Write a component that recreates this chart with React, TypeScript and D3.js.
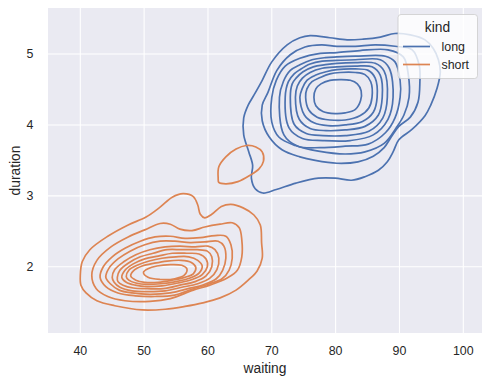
import React from 'react';
import * as d3 from 'd3';

type P = [number, number];

// axis ticks
const xTicks = [40, 50, 60, 70, 80, 90, 100];
const yTicks = [2, 3, 4, 5];
const kinds = ['long', 'short'];
const kindColors = ['#4C72B0', '#DD8452'];

// KDE contour lines, as (waiting, duration) pairs, outer -> inner
const long1: P[] = [[72.4,5.13],[74.4,5.23],[76.0,5.26],[79.1,5.23],[81.8,5.20],[84.3,5.21],[87.0,5.24],[89.3,5.29],[91.7,5.27],[94.0,5.20],[95.3,5.08],[96.1,4.92],[96.4,4.75],[95.9,4.52],[94.9,4.28],[94.0,4.13],[92.0,3.94],[89.9,3.79],[89.0,3.62],[88.1,3.48],[86.7,3.36],[84.6,3.27],[82.5,3.22],[79.9,3.25],[77.3,3.25],[73.8,3.18],[70.7,3.09],[68.6,3.04],[67.4,3.10],[66.8,3.25],[67.0,3.43],[66.4,3.62],[65.6,3.86],[65.6,4.10],[66.3,4.28],[67.2,4.42],[68.5,4.63],[70.0,4.89]];
const long2: P[] = [[68.5,4.28],[69.4,4.46],[70.8,4.77],[72.9,4.99],[75.2,5.10],[77.8,5.13],[80.2,5.11],[83.1,5.11],[86.2,5.13],[89.3,5.11],[92.0,5.06],[93.1,4.84],[93.2,4.61],[92.9,4.32],[91.7,4.11],[89.9,3.98],[88.7,3.83],[87.6,3.68],[85.9,3.56],[83.5,3.48],[80.2,3.46],[76.8,3.50],[74.4,3.55],[71.6,3.65],[69.6,3.83],[68.5,4.06]];
const long3: P[] = [[70.0,4.39],[70.7,4.63],[72.1,4.83],[74.4,4.94],[77.6,5.01],[80.2,5.02],[83.8,5.05],[88.2,5.06],[90.6,4.96],[91.4,4.70],[91.5,4.39],[90.7,4.14],[89.5,3.96],[87.6,3.74],[84.6,3.62],[81.5,3.59],[77.3,3.63],[73.7,3.71],[71.1,3.83],[70.0,4.04]];
const long4: P[] = [[71.2,4.39],[71.8,4.61],[72.9,4.77],[74.4,4.85],[76.3,4.92],[78.4,4.95],[80.2,4.96],[83.1,4.97],[87.8,4.97],[89.3,4.89],[90.1,4.63],[90.1,4.39],[89.3,4.10],[87.8,3.89],[85.1,3.73],[81.5,3.70],[77.6,3.68],[74.1,3.70],[71.9,3.86]];
const long5: P[] = [[72.1,4.39],[72.6,4.61],[73.5,4.72],[74.4,4.78],[76.0,4.86],[77.9,4.90],[80.2,4.91],[83.1,4.92],[87.0,4.92],[88.4,4.80],[89.0,4.39],[88.2,4.08],[85.9,3.86],[82.3,3.78],[78.0,3.78],[74.8,3.81],[72.7,3.96]];
const long6: P[] = [[72.9,4.39],[73.2,4.58],[73.8,4.66],[74.9,4.75],[76.5,4.82],[78.4,4.85],[80.2,4.87],[83.1,4.88],[86.2,4.87],[87.6,4.76],[88.1,4.39],[87.4,4.10],[85.2,3.91],[81.5,3.85],[78.0,3.85],[75.4,3.88],[73.5,4.01]];
const long7: P[] = [[73.7,4.39],[74.0,4.55],[74.8,4.66],[76.0,4.74],[77.9,4.80],[80.2,4.82],[83.1,4.83],[85.7,4.82],[87.0,4.70],[87.3,4.39],[86.7,4.14],[84.6,3.98],[81.5,3.93],[78.5,3.92],[76.0,3.95],[74.3,4.08]];
const long8: P[] = [[74.4,4.39],[74.8,4.52],[75.5,4.63],[76.8,4.70],[78.5,4.75],[80.2,4.78],[83.1,4.79],[85.1,4.77],[86.2,4.66],[86.5,4.39],[85.9,4.18],[84.2,4.05],[81.5,4.00],[78.8,3.99],[76.6,4.03],[75.1,4.14]];
const long9: P[] = [[75.3,4.39],[75.5,4.51],[76.3,4.61],[77.6,4.67],[79.1,4.72],[80.7,4.74],[83.1,4.74],[84.6,4.71],[85.5,4.61],[85.7,4.39],[85.2,4.24],[83.8,4.13],[81.5,4.07],[79.1,4.07],[77.1,4.11],[75.8,4.21]];
const long10: P[] = [[76.6,4.39],[76.9,4.51],[77.7,4.58],[79.1,4.63],[80.7,4.64],[82.3,4.63],[83.4,4.58],[84.0,4.48],[83.9,4.34],[83.1,4.22],[81.5,4.17],[79.9,4.16],[78.0,4.19],[76.9,4.27]];

const shortIsland: P[] = [[61.6,3.25],[61.7,3.41],[62.8,3.55],[64.4,3.66],[66.0,3.71],[67.5,3.69],[68.5,3.62],[68.7,3.49],[68.0,3.38],[66.6,3.29],[64.7,3.20],[62.8,3.17],[61.7,3.19]];
const short1: P[] = [[40.0,1.88],[40.3,2.07],[41.5,2.24],[44.3,2.43],[47.5,2.59],[50.3,2.70],[52.5,2.84],[54.4,2.98],[56.1,3.03],[57.7,2.99],[58.4,2.87],[58.8,2.74],[59.5,2.69],[60.6,2.74],[62.1,2.85],[63.6,2.88],[65.5,2.83],[67.2,2.73],[68.2,2.59],[68.4,2.34],[68.5,2.12],[67.7,1.94],[66.3,1.81],[64.4,1.67],[61.9,1.56],[59.2,1.49],[56.4,1.44],[53.3,1.40],[49.7,1.39],[45.4,1.45],[42.6,1.52],[40.9,1.63],[40.1,1.74]];
const short2: P[] = [[41.8,1.88],[42.6,2.09],[44.8,2.28],[47.5,2.42],[50.1,2.52],[52.5,2.61],[54.1,2.60],[55.6,2.53],[57.5,2.51],[59.5,2.56],[61.9,2.60],[63.8,2.62],[64.9,2.55],[65.3,2.38],[65.3,2.14],[64.6,1.95],[63.0,1.84],[60.3,1.74],[57.7,1.67],[54.1,1.55],[50.9,1.51],[47.0,1.52],[44.3,1.58],[42.5,1.69]];
const short3: P[] = [[43.1,1.85],[43.6,2.00],[45.0,2.14],[47.0,2.26],[49.4,2.36],[51.7,2.42],[54.1,2.43],[56.4,2.40],[58.8,2.41],[61.1,2.44],[62.8,2.43],[63.6,2.31],[63.8,2.12],[63.3,1.95],[62.2,1.83],[60.3,1.76],[57.7,1.69],[54.8,1.60],[51.7,1.58],[48.6,1.59],[45.9,1.63],[44.0,1.72]];
const short4: P[] = [[44.0,1.85],[44.5,1.98],[45.9,2.11],[47.8,2.22],[50.1,2.31],[52.5,2.36],[54.8,2.36],[57.2,2.34],[59.5,2.35],[61.6,2.36],[62.5,2.29],[62.8,2.12],[62.3,1.95],[61.3,1.83],[59.4,1.75],[56.9,1.69],[54.1,1.63],[50.9,1.61],[48.1,1.63],[46.1,1.67],[44.7,1.76]];
const short5: P[] = [[45.0,1.85],[45.4,1.96],[46.8,2.07],[48.7,2.17],[50.9,2.24],[53.3,2.28],[55.6,2.29],[58.0,2.28],[60.0,2.29],[61.1,2.24],[61.7,2.12],[61.4,1.96],[60.3,1.84],[58.4,1.76],[55.9,1.71],[53.3,1.66],[50.6,1.65],[48.1,1.66],[46.2,1.71],[45.3,1.78]];
const short6: P[] = [[45.8,1.85],[46.2,1.95],[47.5,2.05],[49.4,2.14],[51.4,2.19],[53.6,2.24],[55.9,2.24],[58.3,2.24],[59.9,2.22],[60.6,2.14],[60.6,2.00],[59.7,1.87],[58.0,1.79],[55.6,1.74],[53.0,1.69],[50.5,1.69],[48.3,1.70],[46.7,1.74],[45.9,1.79]];
const short7: P[] = [[46.5,1.85],[47.0,1.95],[48.3,2.04],[50.1,2.11],[52.2,2.15],[54.4,2.19],[56.7,2.19],[58.6,2.18],[59.7,2.11],[59.9,2.00],[59.1,1.89],[57.5,1.82],[55.3,1.77],[52.8,1.73],[50.5,1.72],[48.6,1.74],[47.2,1.78]];
const short8: P[] = [[47.2,1.86],[47.6,1.95],[48.9,2.02],[50.8,2.08],[52.8,2.12],[55.0,2.14],[57.0,2.14],[58.4,2.09],[59.1,2.01],[58.6,1.91],[57.2,1.84],[55.0,1.79],[52.6,1.76],[50.5,1.75],[48.7,1.77],[47.6,1.81]];
const short9: P[] = [[47.9,1.87],[48.4,1.95],[49.7,2.01],[51.6,2.05],[53.6,2.08],[55.8,2.09],[57.4,2.06],[58.1,1.99],[57.7,1.90],[56.4,1.85],[54.4,1.81],[52.2,1.78],[50.1,1.78],[48.7,1.81]];
const short10: P[] = [[49.9,1.92],[50.6,1.97],[52.0,2.01],[54.1,2.03],[55.9,2.02],[56.7,1.97],[56.3,1.88],[54.8,1.83],[52.5,1.82],[50.6,1.85]];

const longContours = [long1, long2, long3, long4, long5, long6, long7, long8, long9, long10];
const shortContours = [shortIsland, short1, short2, short3, short4, short5, short6, short7, short8, short9, short10];

const W = 492;
const H = 385;
const left = 48, right = 482, top = 8, bottom = 333;
const FONT = '"Liberation Sans", Arial, "DejaVu Sans", sans-serif';
const TXT = '#262626';

export default function App() {
  const x = d3.scaleLinear().domain([34.94, 102.93]).range([left, right]);
  const y = d3.scaleLinear().domain([1.065, 5.65]).range([bottom, top]);
  const line = d3
    .line<P>()
    .x((p) => x(p[0]))
    .y((p) => y(p[1]))
    .curve(d3.curveCatmullRomClosed.alpha(0.5));

  const groups = [longContours, shortContours];

  return (
    <svg
      width={W}
      height={H}
      viewBox={`0 0 ${W} ${H}`}
      style={{ position: 'absolute', left: 0, top: 0, background: '#ffffff' }}
      fontFamily={FONT}
    >
      <rect x={left} y={top} width={right - left} height={bottom - top} fill="#EAEAF2" />
      {xTicks.map((t) => (
        <line key={'gx' + t} x1={x(t)} x2={x(t)} y1={top} y2={bottom} stroke="#ffffff" strokeWidth={1.1} />
      ))}
      {yTicks.map((t) => (
        <line key={'gy' + t} x1={left} x2={right} y1={y(t)} y2={y(t)} stroke="#ffffff" strokeWidth={1.1} />
      ))}
      {groups.map((g, gi) => (
        <g key={'g' + gi} fill="none" stroke={kindColors[gi]} strokeWidth={1.7} strokeLinejoin="round">
          {g.map((c, ci) => (
            <path key={ci} d={line(c) || ''} />
          ))}
        </g>
      ))}
      {xTicks.map((t) => (
        <text key={'tx' + t} x={x(t)} y={355} textAnchor="middle" fontSize={12.4} fill={TXT}>
          {t}
        </text>
      ))}
      {yTicks.map((t) => (
        <text key={'ty' + t} x={33.5} y={y(t) + 4.4} textAnchor="end" fontSize={12.4} fill={TXT}>
          {t}
        </text>
      ))}
      <text x={(left + right) / 2} y={373} textAnchor="middle" fontSize={13.8} fill={TXT}>
        waiting
      </text>
      <text
        transform={`translate(20,${(top + bottom) / 2}) rotate(-90)`}
        textAnchor="middle"
        fontSize={13.8}
        fill={TXT}
      >
        duration
      </text>
      <g>
        <rect x={398} y={14.5} width={79.5} height={64} rx={3} fill="#ffffff" fillOpacity={0.8} stroke="#cccccc" strokeOpacity={0.8} />
        <text x={437.5} y={32} textAnchor="middle" fontSize={13.8} fill={TXT}>
          kind
        </text>
        {kinds.map((k, i) => (
          <g key={k}>
            <line x1={403} x2={430} y1={46.5 + i * 18} y2={46.5 + i * 18} stroke={kindColors[i]} strokeWidth={1.7} />
            <text x={441.5} y={46.5 + i * 18 + 4.4} fontSize={12.4} fill={TXT}>
              {k}
            </text>
          </g>
        ))}
      </g>
    </svg>
  );
}
